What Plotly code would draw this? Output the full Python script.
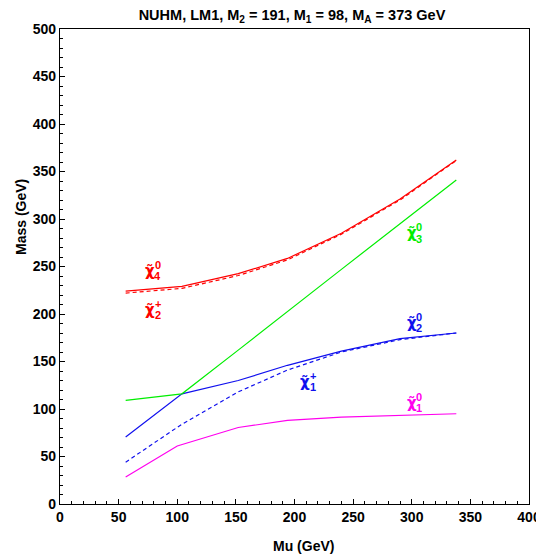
import plotly.graph_objects as go

# ---- data ----
mu = [56, 104, 152, 194, 240, 290, 338]
mu_chi10 = [56, 100, 152, 194, 240, 290, 338]
chi10 = [28.5, 61, 80.5, 88, 91.5, 93, 95]
chi20 = [70.5, 116, 130, 146, 161, 174, 180]
chi1p = [44, 84, 118, 141, 160, 173, 180]
chi30 = [109, 116, 162, 203, 247, 295, 341]
chi40 = [224, 229, 242.5, 258.5, 285, 321, 362]
chi2p = [222, 227, 240.5, 257, 284, 320, 361.5]

x_ticks = [0, 50, 100, 150, 200, 250, 300, 350, 400]
y_ticks = [0, 50, 100, 150, 200, 250, 300, 350, 400, 450, 500]

RED = "#ff0000"
GREEN = "#00ee00"
BLUE = "#1010ee"
MAG = "#ff00ee"
FONT = "Liberation Sans"

fig = go.Figure()

def line(x, y, color, dash="solid"):
    fig.add_trace(go.Scatter(x=x, y=y, mode="lines",
                             line=dict(color=color, width=1.2, dash=dash),
                             showlegend=False, hoverinfo="skip"))

line(mu_chi10, chi10, MAG)
line(mu, chi20, BLUE)
line(mu, chi1p, BLUE, "4px,3px")
line(mu, chi30, GREEN)
line(mu, chi40, RED)
line(mu, chi2p, RED, "4px,3px")

# ---- geometry: page has an 8px body margin, compensate ----
OFF = 8
W, H = 544, 559
PX0, PX1 = 60, 529      # target screen px of x=0 and x=400
PY0, PY1 = 504, 29      # target screen px of y=0 and y=500
L = PX0 - OFF
T = PY1 - OFF
R = W - (PX1 - OFF)
B = H - (PY0 - OFF)

def pxp(px):
    return (px - PX0) / (PX1 - PX0)

def pyp(py):
    return (PY0 - py) / (PY0 - PY1)

def txt(px, py, text, size, col, family=FONT, angle=0):
    fig.add_annotation(x=pxp(px), y=pyp(py), xref="paper", yref="paper",
                       text=text, showarrow=False, textangle=angle,
                       xanchor="center", yanchor="middle",
                       font=dict(family=family, size=size, color=col, weight="bold"))

# labels: (chi center px x, px y, superscript, subscript, colour)
labels = [
    (150, 271, "0", "4", RED),
    (150, 310, "+", "2", RED),
    (411.7, 233.5, "0", "3", GREEN),
    (411.7, 322.5, "0", "2", BLUE),
    (305, 381.5, "+", "1", BLUE),
    (411.7, 403, "0", "1", MAG),
]

for cx, cy, sup, sub, col in labels:
    txt(cx, cy, "χ̃", 15, col, family="DejaVu Sans")
    txt(cx + 7.5, cy - 6, sup, 11, col)
    txt(cx + 7.5, cy + 5, sub, 11, col)

# axis titles (off-centre in the reference)
txt(303, 546, "Mu (GeV)", 14, "black")
txt(21, 217, "Mass (GeV)", 14, "black", angle=-90)

axis_common = dict(
    showgrid=False, zeroline=False, showline=True, linecolor="black",
    linewidth=1.3, mirror=True, ticks="inside", ticklen=5, tickcolor="black",
    tickwidth=1,
    tickfont=dict(family=FONT, size=14, color="black", weight="bold"),
    minor=dict(ticks="inside", ticklen=3, tickcolor="black", dtick=10),
)

fig.update_xaxes(range=[0, 400], tickvals=x_ticks,
                 ticktext=[str(v) for v in x_ticks], **axis_common)
fig.update_yaxes(range=[0, 500], tickvals=y_ticks,
                 ticktext=[str(v) for v in y_ticks], **axis_common)

fig.update_layout(
    width=W, height=H,
    margin=dict(l=L, r=R, t=T, b=B, autoexpand=False),
    paper_bgcolor="white", plot_bgcolor="white",
    title=dict(text="NUHM, LM1, M<sub>2</sub> = 191, M<sub>1</sub> = 98, M<sub>A</sub> = 373 GeV",
               x=(292 - OFF) / W, xanchor="center", y=1 - (15 - OFF) / H, yanchor="middle",
               font=dict(family=FONT, size=14.5, color="black", weight="bold")),
    font=dict(family=FONT, color="black"),
)

fig.write_html("out.html")
